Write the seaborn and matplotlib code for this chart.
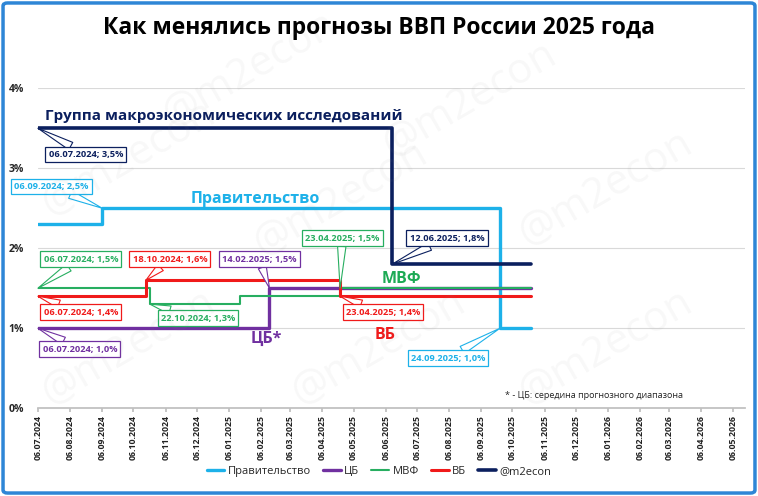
import numpy as np
import pandas as pd
import matplotlib
matplotlib.use("Agg")
import matplotlib.pyplot as plt
import matplotlib.dates as mdates
from matplotlib.patches import FancyBboxPatch
import seaborn as sns

# Прогнозы ВВП 2025 (даты изменений, значения в %)
gov_dates = ['2024-07-06', '2024-09-06', '2025-09-24', '2025-10-24']
gov_vals = [2.3, 2.5, 1.0, 1.0]
cb_dates = ['2024-07-06', '2025-02-14', '2025-10-24']
cb_vals = [1.0, 1.5, 1.5]
imf_dates = ['2024-07-06', '2024-10-22', '2025-01-17', '2025-04-23', '2025-10-24']
imf_vals = [1.5, 1.3, 1.4, 1.5, 1.5]
wb_dates = ['2024-07-06', '2024-10-18', '2025-04-23', '2025-10-24']
wb_vals = [1.4, 1.6, 1.4, 1.4]
m2_dates = ['2024-07-06', '2025-06-12', '2025-10-24']
m2_vals = [3.5, 1.8, 1.8]

series_names = ['Правительство', 'ЦБ', 'МВФ', 'ВБ', '@m2econ']
colors = ['#1DB1E9', '#7030A0', '#27AE60', '#F01A1A', '#0B1F5E']

# подписи-выноски: (дата, значение, текст, серия, сдвиг x, сдвиг y в пикселях)
callouts = [
    ('2024-07-06', 3.5, '06.07.2024; 3,5%', 4, 48, -26),
    ('2024-09-06', 2.5, '06.09.2024; 2,5%', 0, -51, 22),
    ('2024-07-06', 1.5, '06.07.2024; 1,5%', 2, 43, 29),
    ('2024-10-18', 1.6, '18.10.2024; 1,6%', 3, 24, 21),
    ('2025-02-14', 1.5, '14.02.2025; 1,5%', 1, -10, 29),
    ('2025-04-23', 1.5, '23.04.2025; 1,5%', 2, 2, 50),
    ('2025-06-12', 1.8, '12.06.2025; 1,8%', 4, 55, 26),
    ('2024-07-06', 1.4, '06.07.2024; 1,4%', 3, 43, -16),
    ('2024-10-22', 1.3, '22.10.2024; 1,3%', 2, 48, -14),
    ('2025-04-23', 1.4, '23.04.2025; 1,4%', 3, 43, -16),
    ('2024-07-06', 1.0, '06.07.2024; 1,0%', 1, 42, -21),
    ('2025-09-24', 1.0, '24.09.2025; 1,0%', 0, -52, -30),
]

sns.set_theme(style="white")
plt.rcParams['font.family'] = ['Open Sans', 'DejaVu Sans']

fig = plt.figure(figsize=(7.58, 4.96), dpi=100)
ax = fig.add_axes([0.050, 0.177, 0.933, 0.645])

all_dates = [gov_dates, cb_dates, imf_dates, wb_dates, m2_dates]
all_vals = [gov_vals, cb_vals, imf_vals, wb_vals, m2_vals]
widths = [2.4, 2.4, 1.5, 2.2, 2.6]
for name, d, v, c, lw in zip(series_names, all_dates, all_vals, colors, widths):
    df = pd.DataFrame({'date': pd.to_datetime(d), 'val': v})
    sns.lineplot(data=df, x='date', y='val', color=c, lw=lw, label=name,
                 drawstyle='steps-post', ax=ax, zorder=3)

ax.set_ylim(0, 4)
ax.set_xlim(pd.Timestamp('2024-07-06'), pd.Timestamp('2026-05-18'))
ax.set_yticks([0, 1, 2, 3, 4])
ax.set_yticklabels(['0%', '1%', '2%', '3%', '4%'], fontsize=7.5, fontweight='bold')
ax.xaxis.set_major_locator(mdates.MonthLocator(bymonthday=6))
ax.xaxis.set_major_formatter(mdates.DateFormatter('%d.%m.%Y'))
plt.setp(ax.get_xticklabels(), rotation=90, fontsize=6.3, fontweight='bold', color='#222222')
ax.tick_params(axis='x', length=3, color='#bfbfbf', pad=2, bottom=True)
ax.tick_params(axis='y', length=0, pad=10)
ax.set_xlabel('')
ax.set_ylabel('')
ax.yaxis.grid(True, color='#d9d9d9', lw=0.8)
ax.xaxis.grid(False)
for s in ['left', 'right', 'top']:
    ax.spines[s].set_visible(False)
ax.spines['bottom'].set_color('#bfbfbf')

for date, val, txt, si, dx, dy in callouts:
    c = colors[si]
    ax.annotate(txt, xy=(mdates.date2num(pd.Timestamp(date)), val),
                xytext=(dx, dy), textcoords='offset pixels',
                ha='center', va='center', fontsize=6.7, fontweight='bold', color=c,
                bbox=dict(boxstyle='square,pad=0.35', fc='white', ec=c, lw=0.9),
                arrowprops=dict(arrowstyle='wedge,tail_width=0.9', fc='white', ec=c,
                                lw=0.8, shrinkA=0, shrinkB=0),
                zorder=5)

# подписи серий
ax.text(pd.Timestamp('2024-07-13'), 3.65, 'Группа макроэкономических исследований',
        color=colors[4], fontsize=11, fontweight='bold', ha='left', va='center')
ax.text(pd.Timestamp('2025-01-31'), 2.62, 'Правительство', color=colors[0],
        fontsize=11.5, fontweight='bold', ha='center', va='center')
ax.text(pd.Timestamp('2025-06-21'), 1.61, 'МВФ', color='#1DAA55',
        fontsize=11.5, fontweight='bold', ha='center', va='center')
ax.text(pd.Timestamp('2025-06-05'), 0.92, 'ВБ', color=colors[3],
        fontsize=11.5, fontweight='bold', ha='center', va='center')
ax.text(pd.Timestamp('2025-02-11'), 0.87, 'ЦБ*', color=colors[1],
        fontsize=11.5, fontweight='bold', ha='center', va='center')
ax.text(pd.Timestamp('2025-09-29'), 0.16, '* - ЦБ: середина прогнозного диапазона',
        color='#222222', fontsize=6.5, ha='left', va='center')

ax.get_legend().remove()
h, l = ax.get_legend_handles_labels()
fig.legend(h, l, loc='center', bbox_to_anchor=(0.5, 0.05), ncol=5, frameon=False,
           fontsize=8, handlelength=1.6, columnspacing=1.1, handletextpad=0.3)

fig.text(0.5, 0.943, 'Как менялись прогнозы ВВП России 2025 года', ha='center',
         va='center', fontsize=16.5, fontweight='bold', color='black')

# водяные знаки
for wx, wy in [(0.33, 0.86), (0.62, 0.80), (0.17, 0.68), (0.45, 0.60), (0.80, 0.62),
               (0.17, 0.30), (0.50, 0.30), (0.80, 0.30)]:
    fig.text(wx, wy, '@m2econ', rotation=30, fontsize=30, color='#888888', alpha=0.06,
             ha='center', va='center', zorder=10)

fig.add_artist(FancyBboxPatch((0.004, 0.006), 0.992, 0.988, boxstyle='round,pad=0,rounding_size=0.006',
                              transform=fig.transFigure, fill=False, ec='#2E86D6', lw=2.5))

fig.savefig('out.png', dpi=100)
